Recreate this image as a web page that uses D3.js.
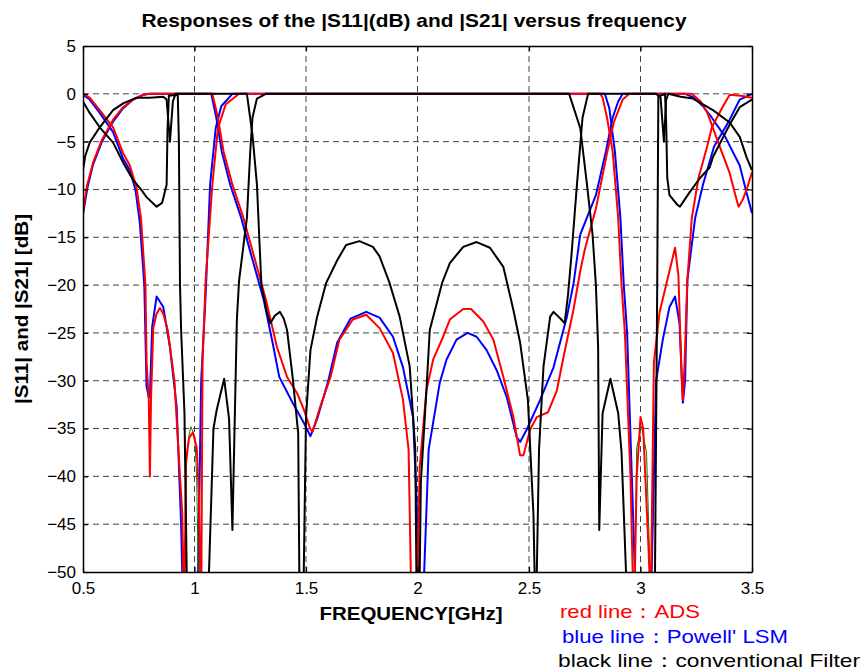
<!DOCTYPE html>
<html>
<head>
<meta charset="utf-8">
<script src="https://cdn.jsdelivr.net/npm/d3@7/dist/d3.min.js"></script>
<style>
  body { margin: 0; background: #fff; }
  text { font-family: Arial, "Liberation Sans", Helvetica, sans-serif; }
</style>
</head>
<body>
<div id="chart"></div>
<script>
// [frequency GHz, dB]. Values under -50 are deep zeros (clipped).

// red : ADS
const s21Ads = [[0.5,-12.4],[0.517,-9.7],[0.545,-7.2],[0.585,-4.8],[0.635,-2.7],[0.68,-1.4],[0.725,-0.6],[0.77,-0.1],[0.8,0],
  [1.08,0],[1.105,-2.5],[1.13,-6],[1.17,-9.5],[1.22,-13],[1.26,-16.4],[1.32,-21.5],[1.37,-26.5],[1.415,-29.6],[1.46,-31.3],
  [1.49,-33],[1.52,-35.1],[1.53,-35.3],[1.56,-33],[1.61,-29.6],[1.65,-25.7],[1.71,-23.6],[1.77,-23.1],[1.83,-24.5],[1.89,-27.1],
  [1.935,-32],[1.96,-37.2],[1.97,-50],[1.985,-65],[2.0,-50],[2.01,-39],[2.04,-31],[2.07,-27.8],[2.115,-25.4],[2.145,-23.6],
  [2.205,-22.5],[2.24,-22.5],[2.295,-23.8],[2.34,-25.7],[2.385,-29.6],[2.43,-33.8],[2.46,-37.8],[2.475,-37.8],[2.505,-35.1],
  [2.535,-33.8],[2.585,-33.3],[2.625,-31],[2.655,-27.5],[2.7,-22.5],[2.73,-18.5],[2.75,-16.3],[2.8,-12],[2.85,-6.2],[2.88,-3],
  [2.92,-0.6],[2.95,0],[3.23,0],[3.27,-0.8],[3.3,-2],[3.355,-5.5],[3.4,-8.3],[3.43,-11],[3.44,-11.8],[3.46,-11],[3.48,-9.7],[3.5,-8.2]];
const s11Ads = [[0.5,0],[0.53,-0.4],[0.575,-1.7],[0.635,-3.5],[0.68,-6.2],[0.71,-7.5],[0.74,-9.8],[0.76,-13],[0.78,-20],[0.785,-28],
  [0.795,-32],[0.8,-40],[0.805,-32],[0.815,-24.5],[0.83,-23],[0.845,-22.4],[0.86,-23],[0.88,-24.7],[0.91,-30],[0.935,-40],[0.945,-43.8],
  [0.95,-50],[0.953,-60],[0.956,-50],[0.962,-38.6],[0.975,-36],[0.993,-35.4],[1.01,-37],[1.02,-42],[1.025,-50],[1.028,-60],[1.031,-50],
  [1.036,-28],[1.05,-19.5],[1.08,-9.5],[1.105,-3.6],[1.14,-1.1],[1.2,0],[2.82,0],[2.83,-0.4],[2.85,-2.5],[2.875,-6],[2.9,-13],
  [2.915,-20],[2.93,-25],[2.955,-40],[2.965,-50],[2.968,-60],[2.975,-50],[2.983,-40],[3.0,-33.8],[3.012,-35],[3.035,-47],[3.04,-50],
  [3.043,-60],[3.048,-50],[3.06,-28.1],[3.085,-22.9],[3.12,-19.5],[3.155,-16.1],[3.17,-19],[3.185,-30],[3.19,-32],[3.198,-28],
  [3.21,-19.5],[3.23,-13],[3.26,-8.8],[3.3,-5.4],[3.32,-3.5],[3.37,-1.3],[3.4,-0.1],[3.45,-0.2],[3.5,-0.4]];

// blue : Powell' LSM
const s21Powell = [[0.5,-12.6],[0.52,-9.8],[0.545,-7.4],[0.585,-5],[0.635,-2.9],[0.68,-1.5],[0.725,-0.6],[0.77,-0.1],[0.8,0],
  [1.075,0],[1.098,-2.5],[1.122,-6],[1.16,-9.5],[1.21,-13],[1.25,-16.5],[1.31,-21.5],[1.35,-26],[1.38,-29.6],[1.44,-32.3],
  [1.49,-34.4],[1.52,-35.8],[1.55,-34],[1.6,-30],[1.64,-26],[1.7,-23.5],[1.77,-22.8],[1.83,-23.4],[1.89,-25.4],[1.935,-28.6],
  [1.98,-33.8],[1.995,-42],[2.005,-50],[2.015,-65],[2.03,-50],[2.05,-37.2],[2.1,-30.2],[2.13,-27.8],[2.175,-25.7],[2.225,-25],
  [2.265,-25.4],[2.31,-26.8],[2.355,-28.9],[2.4,-31.7],[2.445,-35.9],[2.46,-36.4],[2.49,-35.1],[2.55,-32],[2.61,-28.6],[2.67,-23.3],
  [2.7,-19.8],[2.73,-14.7],[2.8,-10.6],[2.845,-6],[2.875,-2.5],[2.9,-0.8],[2.92,0],[3.2,0],[3.24,-0.4],[3.28,-1.3],[3.32,-2.5],
  [3.38,-4.5],[3.445,-7.5],[3.475,-10.3],[3.5,-12.5]];
const s11Powell = [[0.5,-0.1],[0.53,-0.6],[0.575,-2],[0.635,-4],[0.68,-6.8],[0.71,-8],[0.735,-10],[0.755,-13.5],[0.775,-20],
  [0.785,-30.6],[0.795,-31.7],[0.8,-31.7],[0.81,-24.4],[0.83,-21.2],[0.86,-22.3],[0.89,-26.5],[0.92,-32.7],[0.94,-45],[0.945,-50],
  [0.98,-65],[1.016,-50],[1.03,-30],[1.05,-21],[1.07,-9.5],[1.095,-3.6],[1.12,-1.3],[1.17,0],[2.84,0],[2.86,-1.5],[2.885,-6],
  [2.91,-13],[2.925,-20],[2.94,-25],[2.975,-50],[3.01,-65],[3.05,-50],[3.07,-30],[3.1,-25.7],[3.13,-22.3],[3.155,-21.2],[3.175,-24],
  [3.19,-32.3],[3.2,-30],[3.21,-19.5],[3.245,-13],[3.28,-9.5],[3.31,-7.1],[3.33,-5.5],[3.4,-2.7],[3.445,-0.6],[3.5,0]];

// thin green peaks between the zeros
const greenLeft = [[0.957,-50],[0.965,-37.6],[0.977,-35.5],[0.984,-34.8],[1.002,-35.9],[1.01,-40.4],[1.017,-50]];
const greenRight = [[2.975,-50],[2.983,-37],[3.005,-34.8],[3.027,-37.5],[3.043,-50]];

// black : conventional filter
const s21Conv = [[0.5,-8],[0.51,-6.5],[0.53,-5.1],[0.575,-3.5],[0.635,-1.7],[0.68,-1],[0.74,-0.4],[0.8,-0.4],[0.86,-0.3],
  [0.875,-0.6],[0.89,-5],[0.903,-0.8],[0.915,0],[1.235,0],[1.26,-4.3],[1.28,-9.5],[1.3,-20],[1.325,-22.9],[1.34,-24],[1.36,-23.2],
  [1.383,-22.8],[1.4,-23.5],[1.415,-24.7],[1.44,-29.6],[1.465,-35.5],[1.47,-50],[1.48,-65],[1.49,-50],[1.5,-33.8],[1.52,-26.8],
  [1.55,-23.3],[1.59,-19.8],[1.64,-17.4],[1.68,-15.8],[1.74,-15.4],[1.8,-16],[1.83,-17],[1.875,-19.8],[1.92,-23.3],[1.965,-28.5],
  [1.99,-37.2],[1.995,-50],[2.003,-65],[2.01,-50],[2.015,-40.7],[2.04,-31],[2.055,-24.7],[2.11,-19.8],[2.145,-17.7],[2.205,-16],
  [2.265,-15.5],[2.325,-16.1],[2.385,-18.1],[2.43,-22.6],[2.46,-26],[2.495,-32],[2.52,-44],[2.525,-50],[2.53,-65],[2.535,-50],
  [2.545,-37.2],[2.565,-28.5],[2.595,-23.3],[2.61,-22.8],[2.645,-23.6],[2.66,-24],[2.675,-21],[2.69,-17],[2.715,-9.5],[2.74,-2.5],
  [2.765,0],[3.07,0],[3.09,-0.4],[3.105,-5],[3.115,-0.6],[3.125,0],[3.18,-0.3],[3.235,-0.5],[3.325,-1.7],[3.4,-3],[3.445,-4.5],
  [3.475,-6.6],[3.5,-8]];
const s11Conv = [[0.5,-0.8],[0.53,-2],[0.575,-3.5],[0.635,-5.1],[0.68,-7.2],[0.725,-9],[0.76,-10],[0.785,-10.8],[0.83,-11.8],
  [0.855,-11.4],[0.875,-9.5],[0.879,-3.8],[0.885,-0.2],[0.925,-0.1],[0.93,-5],[0.935,-20],[0.94,-24.7],[0.955,-33.4],[0.965,-50],
  [0.97,-65],[1.06,-65],[1.065,-50],[1.085,-35],[1.1,-33],[1.133,-29.8],[1.155,-34],[1.17,-45.6],[1.19,-23.6],[1.2,-19.5],
  [1.235,-13],[1.25,-6],[1.26,-2.5],[1.28,-0.5],[1.32,0],[2.68,0],[2.73,-3.6],[2.76,-9.5],[2.785,-14.7],[2.8,-20],[2.81,-26.5],
  [2.815,-45.6],[2.83,-33.4],[2.865,-29.8],[2.9,-33.4],[2.915,-37.5],[2.935,-50],[2.94,-65],[3.06,-65],[3.065,-50],[3.075,-20],
  [3.08,-0.3],[3.11,0],[3.115,-3],[3.12,-8.8],[3.13,-10.6],[3.165,-11.6],[3.177,-11.8],[3.22,-10.3],[3.267,-8.8],[3.31,-7.7],
  [3.325,-6.6],[3.4,-3.2],[3.445,-1.4],[3.5,-0.6]];

const xTicks = [0.5, 1, 1.5, 2, 2.5, 3, 3.5];
const yTicks = [5, 0, -5, -10, -15, -20, -25, -30, -35, -40, -45, -50];
const legendLines = ["red line\uFF1AADS", "blue line\uFF1APowell' LSM", "black line\uFF1Aconventional Filter"];

// ---- layout
const W = 867, H = 670;
const gauche = 83, droite = 752, haut = 46, bas = 572;

const svg = d3.select("#chart").append("svg")
  .attr("width", W).attr("height", H);

svg.append("rect").attr("width", W).attr("height", H).attr("fill", "#fff");

const x = d3.scaleLinear().domain([0.5, 3.5]).range([gauche, droite]);
const y = d3.scaleLinear().domain([-50, 5]).range([bas, haut]);

// dashed grid (not on the frame itself)
svg.append("g").selectAll("line")
  .data(xTicks.filter(d => d > 0.5 && d < 3.5)).join("line")
  .attr("x1", d => x(d)).attr("x2", d => x(d))
  .attr("y1", haut).attr("y2", bas)
  .attr("stroke", "#444").attr("stroke-width", 1).attr("stroke-dasharray", "6,4");
svg.append("g").selectAll("line")
  .data(yTicks.filter(d => d < 5 && d > -50)).join("line")
  .attr("x1", gauche).attr("x2", droite)
  .attr("y1", d => y(d)).attr("y2", d => y(d))
  .attr("stroke", "#444").attr("stroke-width", 1).attr("stroke-dasharray", "6,4");

// curves, clipped to the plot box
svg.append("clipPath").attr("id", "zone").append("rect")
  .attr("x", gauche).attr("y", haut).attr("width", droite - gauche).attr("height", bas - haut);

const ligne = d3.line().x(d => x(d[0])).y(d => y(d[1]));
const courbes = svg.append("g").attr("clip-path", "url(#zone)");

function tracer(data, couleur, epaisseur) {
  courbes.append("path")
    .attr("d", ligne(data))
    .attr("fill", "none")
    .attr("stroke", couleur)
    .attr("stroke-width", epaisseur)
    .attr("stroke-linejoin", "round");
}

tracer(s21Powell, "#0000ff", 2);
tracer(s11Powell, "#0000ff", 2);
tracer(greenLeft, "#008000", 1);
tracer(greenRight, "#008000", 1);
tracer(s21Ads, "#ff0000", 2);
tracer(s11Ads, "#ff0000", 2);
tracer(s21Conv, "#000000", 2);
tracer(s11Conv, "#000000", 2);

// frame with inward ticks on all sides
const ax = svg.append("g");
ax.append("g").attr("transform", `translate(0,${bas})`)
  .call(d3.axisBottom(x).tickValues(xTicks).tickSizeInner(-5).tickSizeOuter(0).tickPadding(10).tickFormat(d3.format("")));
ax.append("g").attr("transform", `translate(${gauche},0)`)
  .call(d3.axisLeft(y).tickValues(yTicks).tickSizeInner(-5).tickSizeOuter(0).tickPadding(7));
ax.append("g").attr("transform", `translate(0,${haut})`)
  .call(d3.axisTop(x).tickValues(xTicks).tickSizeInner(-5).tickSizeOuter(0).tickFormat(""));
ax.append("g").attr("transform", `translate(${droite},0)`)
  .call(d3.axisRight(y).tickValues(yTicks).tickSizeInner(-5).tickSizeOuter(0).tickFormat(""));
ax.selectAll(".domain").attr("stroke", "#000").attr("stroke-width", 1.5);
ax.selectAll(".tick line").attr("stroke", "#000").attr("stroke-width", 1.2);
ax.selectAll(".tick text")
  .attr("fill", "#000")
  .attr("font-size", 17)
  .attr("font-family", "Arial, 'Liberation Sans', sans-serif");

// titles (narrow bold face in the original, so squeeze a larger size)
svg.append("text")
  .attr("x", 414).attr("y", 27)
  .attr("text-anchor", "middle").attr("font-size", 19).attr("font-weight", "bold")
  .attr("textLength", 545).attr("lengthAdjust", "spacingAndGlyphs")
  .text("Responses of the |S11|(dB) and |S21| versus frequency");

svg.append("text")
  .attr("x", 411).attr("y", 620)
  .attr("text-anchor", "middle").attr("font-size", 19).attr("font-weight", "bold")
  .attr("textLength", 183).attr("lengthAdjust", "spacingAndGlyphs")
  .text("FREQUENCY[GHz]");

svg.append("text")
  .attr("transform", "translate(28,309) rotate(-90)")
  .attr("text-anchor", "middle").attr("font-size", 19).attr("font-weight", "bold")
  .attr("textLength", 190).attr("lengthAdjust", "spacingAndGlyphs")
  .text("|S11| and |S21| [dB]");

// legend written as plain text under the plot
const legende = [
  {x: 560, y: 618, w: 140, c: "#ff0000"},
  {x: 562, y: 643, w: 226, c: "#0000ff"},
  {x: 558, y: 667, w: 302, c: "#000000"}
];
legende.forEach((l, i) => {
  svg.append("text")
    .attr("x", l.x).attr("y", l.y)
    .attr("font-size", 19).attr("fill", l.c)
    .attr("textLength", l.w).attr("lengthAdjust", "spacingAndGlyphs")
    .text(legendLines[i]);
});
</script>
</body>
</html>
